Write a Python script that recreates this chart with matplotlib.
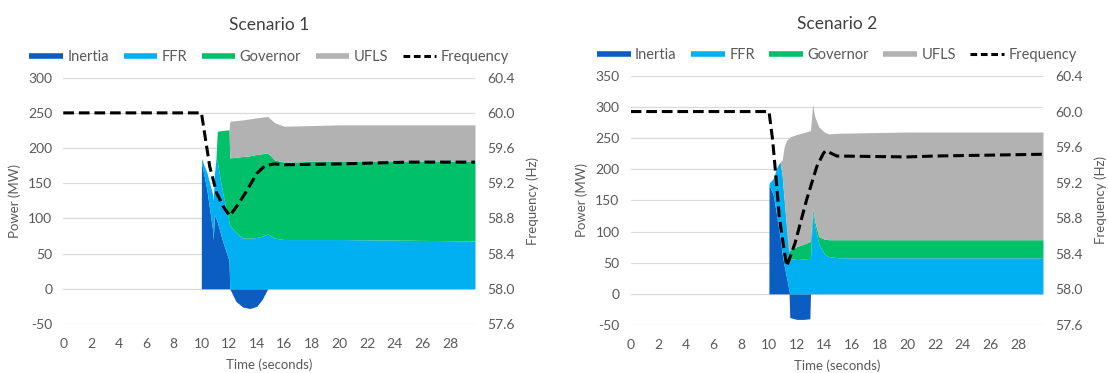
import numpy as np
import matplotlib
matplotlib.use("Agg")
import matplotlib.pyplot as plt
from matplotlib.lines import Line2D

plt.rcParams['font.family'] = ['Lato', 'DejaVu Sans']
plt.rcParams['axes.unicode_minus'] = False

# ---- Scenario 1 (MW per source, stacked) ----
t1 = [0, 9.99, 10.0, 10.4, 10.8, 10.85, 10.95, 11.05, 11.15, 11.5, 12.0, 12.05,
      12.5, 13.0, 13.5, 14.0, 14.4, 14.8, 15.3, 16.0, 18.0, 20.0, 25.0, 29.8]
inertia1 = [0, 0, 180, 140, 85, 70, 105, 100, 95, 70, 40, 0,
            -18, -26, -28, -25, -15, 0, 0, 0, 0, 0, 0, 0]
ffr1 = [0, 0, 5, 25, 50, 55, 60, 85, 85, 70, 55, 90,
        80, 72, 72, 73, 75, 78, 72, 70, 70, 70, 69, 68]
governor1 = [0, 0, 0, 0, 0, 0, 0, 0, 44, 85, 131, 96,
             107, 116, 117, 118, 117, 115, 111, 110, 111, 111, 112, 113]
ufls1 = [0, 0, 0, 0, 0, 0, 0, 0, 0, 0, 0, 52,
         52, 52, 52.5, 52, 52, 52, 53, 51, 51, 52, 52, 52]
tf1 = [0, 10.0, 10.6, 11.1, 11.6, 12.05, 12.7, 13.3, 14.0, 14.6, 15.3, 16.0, 20.0, 25.0, 29.8]
freq1 = [60.0, 60.0, 59.39, 59.09, 58.93, 58.83, 58.97, 59.12, 59.31, 59.40, 59.42,
         59.41, 59.42, 59.44, 59.44]

# ---- Scenario 2 ----
t2 = [0, 9.99, 10.0, 10.3, 10.6, 10.8, 10.95, 11.1, 11.28, 11.45, 11.5, 12.0,
      12.5, 12.95, 13.0, 13.15, 13.3, 13.6, 14.0, 14.3, 15.0, 20.0, 25.0, 29.8]
inertia2 = [0, 0, 175, 160, 120, 90, 65, 45, 25, 5, -38, -41,
            -41, -40, 0, 0, 0, 0, 0, 0, 0, 0, 0, 0]
ffr2 = [0, 0, 3, 25, 85, 122, 125, 105, 75, 55, 57, 55,
        56, 57, 58, 130, 110, 80, 64, 60, 58, 58, 58, 58]
governor2 = [0, 0, 0, 0, 0, 0, 0, 0, 5, 8, 13, 21,
             24, 27, 27, 8, 7, 12, 24, 27, 29, 29, 29, 29]
ufls2 = [0, 0, 0, 0, 0, 0, 25, 87, 142, 182, 182, 180,
         179, 178, 178, 166, 168, 176, 172, 170, 171, 173, 173, 173]
tf2 = [0, 10.0, 10.26, 10.5, 10.74, 10.98, 11.28, 11.88, 12.72, 13.45, 13.93, 14.1,
       14.9, 20.0, 22.0, 26.0, 29.8]
freq2 = [60.0, 60.0, 59.68, 59.27, 58.82, 58.56, 58.26, 58.52, 59.01, 59.38, 59.53, 59.56,
         59.50, 59.49, 59.50, 59.51, 59.52]

C_INERTIA = '#0B5DC1'
C_FFR = '#00B0F0'
C_GOV = '#00C06A'
C_UFLS = '#B2B2B2'
TXT = '#595959'


def draw_panel(ax, t, inertia, ffr, gov, ufls, tf, freq, ymax, title):
    t = np.array(t, dtype=float)
    inertia = np.array(inertia, dtype=float)
    pos = np.clip(inertia, 0, None)
    neg = np.clip(inertia, None, 0)
    c1 = pos
    c2 = c1 + np.array(ffr)
    c3 = c2 + np.array(gov)
    c4 = c3 + np.array(ufls)

    ax.fill_between(t, 0, neg, color=C_INERTIA, lw=0)
    ax.fill_between(t, 0, c1, color=C_INERTIA, lw=0)
    ax.fill_between(t, c1, c2, color=C_FFR, lw=0)
    ax.fill_between(t, c2, c3, color=C_GOV, lw=0)
    ax.fill_between(t, c3, c4, color=C_UFLS, lw=0)

    ax.set_xlim(0, 29.8)
    ax.set_ylim(-50, ymax)
    ax.set_yticks(np.arange(-50, ymax + 1, 50))
    ax.set_xticks(np.arange(0, 29, 2))
    ax.set_axisbelow(True)
    ax.grid(axis='y', color='#D9D9D9', lw=0.9)
    for s in ax.spines.values():
        s.set_visible(False)
    ax.tick_params(length=0, labelsize=10, labelcolor=TXT)
    ax.tick_params(axis='x', pad=10)
    ax.tick_params(axis='y', pad=8)
    ax.set_ylabel('Power (MW)', fontsize=9.5, color=TXT, labelpad=5)
    ax.set_xlabel('Time (seconds)', fontsize=9.5, color=TXT, labelpad=6)
    ax.set_title(title, fontsize=12.5, color='#404040', pad=34)

    ax2 = ax.twinx()
    ax2.plot(tf, freq, color='black', lw=2.2, dashes=(3.5, 1.6))
    ax2.set_ylim(57.6, 60.4)
    ax2.set_yticks(np.arange(57.6, 60.41, 0.4))
    ax2.set_yticklabels([f'{v:.1f}' for v in np.arange(57.6, 60.41, 0.4)])
    for s in ax2.spines.values():
        s.set_visible(False)
    ax2.tick_params(length=0, labelsize=10, labelcolor=TXT, pad=9)
    ax2.set_ylabel('Frequency (Hz)', fontsize=9.5, color=TXT, labelpad=8)

    handles = [
        Line2D([], [], color=C_INERTIA, lw=4, solid_capstyle='butt'),
        Line2D([], [], color=C_FFR, lw=4, solid_capstyle='butt'),
        Line2D([], [], color=C_GOV, lw=4, solid_capstyle='butt'),
        Line2D([], [], color=C_UFLS, lw=4, solid_capstyle='butt'),
        Line2D([], [], color='black', lw=2.2, dashes=(2.2, 1.2)),
    ]
    labels = ['Inertia', 'FFR', 'Governor', 'UFLS', 'Frequency']
    ax.legend(handles, labels, loc='lower center', bbox_to_anchor=(0.5, 1.055),
              ncol=5, frameon=False, fontsize=10.5, handlelength=2.3,
              handletextpad=0.3, columnspacing=1.0, labelcolor=TXT,
              borderaxespad=0, borderpad=0)


fig = plt.figure(figsize=(11.08, 3.73), dpi=100)
ax_a = fig.add_axes([0.0571, 0.1314, 0.3716, 0.6603])
ax_b = fig.add_axes([0.5692, 0.1287, 0.3721, 0.6676])

draw_panel(ax_a, t1, inertia1, ffr1, governor1, ufls1, tf1, freq1, 300, 'Scenario 1')
draw_panel(ax_b, t2, inertia2, ffr2, governor2, ufls2, tf2, freq2, 350, 'Scenario 2')

fig.savefig('out.png', dpi=100)
